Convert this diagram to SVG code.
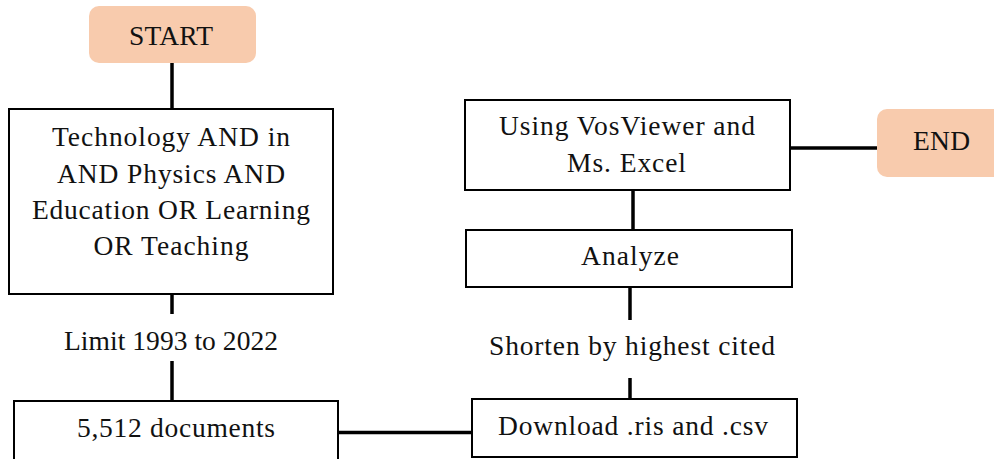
<svg xmlns="http://www.w3.org/2000/svg" width="994" height="459" viewBox="0 0 994 459">
  <style>
    .box { fill: #ffffff; stroke: #000000; stroke-width: 2; }
    .term { fill: #F8CBAD; stroke: none; }
    .lbl { font-family: "Liberation Serif", "Times New Roman", serif; font-size: 27.5px; fill: #111111; text-anchor: middle; }
    .conn { stroke: #000000; stroke-width: 3.5; fill: none; }
  </style>
  <rect width="994" height="459" fill="#ffffff"/>

  <!-- connectors -->
  <g id="connectors">
    <line class="conn" x1="172" y1="63" x2="172" y2="109"/>
    <line class="conn" x1="172" y1="294" x2="172" y2="314"/>
    <line class="conn" x1="172" y1="361" x2="172" y2="401"/>
    <line class="conn" x1="338" y1="432.5" x2="472" y2="432.5"/>
    <line class="conn" x1="630" y1="378" x2="630" y2="399"/>
    <line class="conn" x1="630" y1="287" x2="630" y2="320"/>
    <line class="conn" x1="633" y1="190" x2="633" y2="230"/>
    <line class="conn" x1="790" y1="148" x2="878" y2="148"/>
  </g>

  <g id="start">
    <rect class="term" x="89" y="6" width="167" height="57" rx="10"/>
    <text class="lbl" x="171" y="45" textLength="84">START</text>
  </g>

  <g id="query">
    <rect class="box" x="9" y="109" width="324" height="185"/>
    <text class="lbl" x="171" y="145.5" textLength="238">Technology AND in</text>
    <text class="lbl" x="171" y="182.5" textLength="228">AND Physics AND</text>
    <text class="lbl" x="171" y="219" textLength="278">Education OR Learning</text>
    <text class="lbl" x="171" y="255" textLength="155">OR Teaching</text>
  </g>

  <g id="limit">
    <text class="lbl" x="171" y="350" textLength="214">Limit 1993 to 2022</text>
  </g>

  <g id="documents">
    <rect class="box" x="14" y="401" width="324" height="70"/>
    <text class="lbl" x="176" y="437" textLength="198">5,512 documents</text>
  </g>

  <g id="download">
    <rect class="box" x="472" y="399" width="325" height="58"/>
    <text class="lbl" x="633" y="435" textLength="270">Download .ris and .csv</text>
  </g>

  <g id="shorten">
    <text class="lbl" x="632" y="355" textLength="286">Shorten by highest cited</text>
  </g>

  <g id="analyze">
    <rect class="box" x="466" y="230" width="326" height="57"/>
    <text class="lbl" x="630" y="265" textLength="98">Analyze</text>
  </g>

  <g id="tools">
    <rect class="box" x="465" y="100" width="325" height="90"/>
    <text class="lbl" x="627" y="135" textLength="256">Using VosViewer and</text>
    <text class="lbl" x="626.5" y="171.5" textLength="119">Ms. Excel</text>
  </g>

  <g id="end">
    <rect class="term" x="877" y="109" width="140" height="68" rx="10"/>
    <text class="lbl" x="941.5" y="150" textLength="57">END</text>
  </g>
</svg>
